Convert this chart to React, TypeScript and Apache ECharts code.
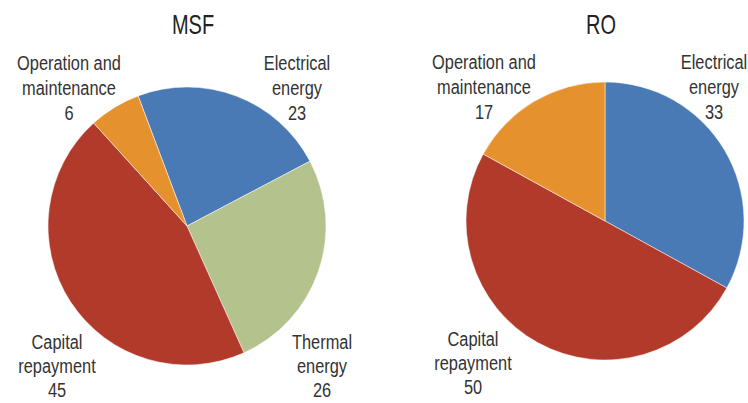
import React, { useEffect, useRef } from "react";
import * as echarts from "echarts";

const categories = ["Electrical energy", "Thermal energy", "Capital repayment", "Operation and maintenance"];
const msfValues = [23, 26, 45, 6];
const roCategories = ["Electrical energy", "Capital repayment", "Operation and maintenance"];
const roValues = [33, 50, 17];
const titles = ["MSF", "RO"];
const colorMap: Record<string, string> = {
  "Electrical energy": "#4a7ab5",
  "Thermal energy": "#b4c28e",
  "Capital repayment": "#b13a2b",
  "Operation and maintenance": "#e5912e",
};
const labelLines: Record<string, string[]> = {
  "Electrical energy": ["Electrical", "energy"],
  "Thermal energy": ["Thermal", "energy"],
  "Capital repayment": ["Capital", "repayment"],
  "Operation and maintenance": ["Operation and", "maintenance"],
};

const FONT = "'Liberation Sans', Arial, sans-serif";
const SX = 0.78;

export default function App() {
  const ref = useRef<HTMLDivElement>(null);
  useEffect(() => {
    document.body.style.margin = "0";
    const chart = echarts.init(ref.current!, null, { renderer: "svg" });

    // [x centre, top of first line box, line height]
    const labelPos: Record<string, Record<string, [number, number, number]>> = {
      MSF: {
        "Operation and maintenance": [69, 50, 25],
        "Electrical energy": [297, 50, 25],
        "Capital repayment": [57, 330, 24],
        "Thermal energy": [322, 330, 24],
      },
      RO: {
        "Operation and maintenance": [484, 49, 25],
        "Electrical energy": [714, 49, 25],
        "Capital repayment": [473, 327, 24],
      },
    };

    const makeLabels = (key: string, names: string[], vals: number[]) =>
      names.map((n, i) => {
        const [x, y, lh] = labelPos[key][n];
        return {
          type: "text",
          x,
          y,
          scaleX: SX,
          style: {
            text: [...labelLines[n], String(vals[i])].join("\n"),
            align: "center",
            verticalAlign: "top",
            font: `21px ${FONT}`,
            lineHeight: lh,
            fill: "#333333",
          },
        };
      });

    const titleX = [193, 601];
    const titleGraphics = titles.map((t, i) => ({
      type: "text",
      x: titleX[i],
      y: 11,
      scaleX: 0.74,
      style: {
        text: t,
        align: "center",
        verticalAlign: "top",
        font: `27px ${FONT}`,
        fill: "#222222",
      },
    }));

    chart.setOption({
      animation: false,
      backgroundColor: "#ffffff",
      graphic: [
        ...titleGraphics,
        ...makeLabels("MSF", categories, msfValues),
        ...makeLabels("RO", roCategories, roValues),
      ],
      series: [
        {
          type: "pie",
          center: [187, 226],
          radius: 139,
          startAngle: 110.6,
          clockwise: true,
          label: { show: false },
          labelLine: { show: false },
          itemStyle: { borderColor: "#ffffff", borderWidth: 0.5 },
          emphasis: { disabled: true },
          data: categories.map((n, i) => ({ name: n, value: msfValues[i], itemStyle: { color: colorMap[n] } })),
        },
        {
          type: "pie",
          center: [605, 221],
          radius: 139,
          startAngle: 90,
          clockwise: true,
          label: { show: false },
          labelLine: { show: false },
          itemStyle: { borderColor: "#ffffff", borderWidth: 0.5 },
          emphasis: { disabled: true },
          data: roCategories.map((n, i) => ({ name: n, value: roValues[i], itemStyle: { color: colorMap[n] } })),
        },
      ],
    });
    return () => chart.dispose();
  }, []);
  return <div ref={ref} style={{ width: 748, height: 403 }} />;
}
